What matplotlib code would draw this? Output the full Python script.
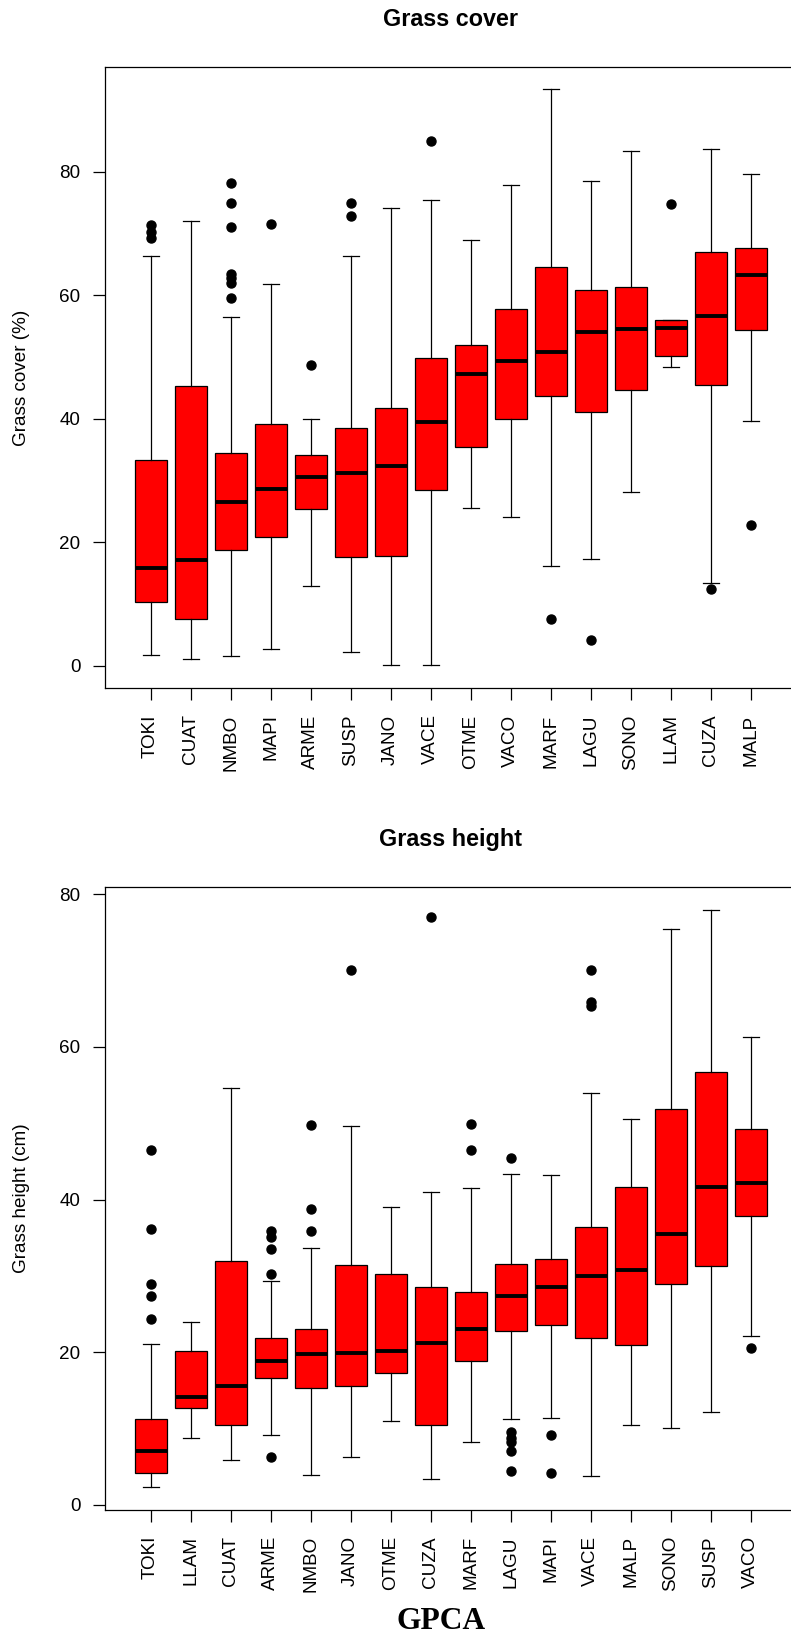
import matplotlib
matplotlib.use("Agg")
import matplotlib.pyplot as plt

plt.rcParams['font.family'] = ['Liberation Sans', 'DejaVu Sans']

# Grass cover (%) per site: box stats
cover_sites = ['TOKI', 'CUAT', 'NMBO', 'MAPI', 'ARME', 'SUSP', 'JANO', 'VACE',
               'OTME', 'VACO', 'MARF', 'LAGU', 'SONO', 'LLAM', 'CUZA', 'MALP']
cover_q1 = [10.3, 7.6, 18.7, 20.8, 25.4, 17.6, 17.8, 28.5,
            35.4, 39.9, 43.7, 41.1, 44.6, 50.2, 45.5, 54.3]
cover_med = [15.9, 17.1, 26.6, 28.7, 30.5, 31.3, 32.4, 39.5,
             47.3, 49.4, 50.8, 54.0, 54.6, 54.7, 56.7, 63.3]
cover_q3 = [33.4, 45.3, 34.4, 39.2, 34.2, 38.5, 41.8, 49.8,
            52.0, 57.8, 64.5, 60.9, 61.4, 56.0, 67.0, 67.7]
cover_lo = [1.8, 1.1, 1.6, 2.7, 12.9, 2.3, 0.1, 0.2,
            25.5, 24.1, 16.2, 17.3, 28.2, 48.4, 13.4, 39.6]
cover_hi = [66.4, 72.0, 56.5, 61.8, 39.9, 66.4, 74.1, 75.4,
            68.9, 77.9, 93.3, 78.5, 83.3, 56.0, 83.7, 79.6]
cover_out = [[71.3, 70.3, 69.2], [], [78.1, 74.9, 71.0, 63.5, 62.8, 62.0, 59.5],
             [71.5], [48.7], [74.9, 72.8], [], [85.0],
             [], [], [7.6], [4.2], [], [74.7], [12.5], [22.8]]

# Grass height (cm) per site
height_sites = ['TOKI', 'LLAM', 'CUAT', 'ARME', 'NMBO', 'JANO', 'OTME', 'CUZA',
                'MARF', 'LAGU', 'MAPI', 'VACE', 'MALP', 'SONO', 'SUSP', 'VACO']
height_q1 = [4.2, 12.7, 10.5, 16.6, 15.3, 15.5, 17.2, 10.4,
             18.8, 22.8, 23.5, 21.9, 21.0, 28.9, 31.3, 37.9]
height_med = [7.1, 14.1, 15.6, 18.9, 19.8, 19.9, 20.2, 21.2,
              23.0, 27.4, 28.6, 30.0, 30.8, 35.5, 41.7, 42.2]
height_q3 = [11.2, 20.2, 32.0, 21.9, 23.0, 31.4, 30.3, 28.5,
             27.9, 31.5, 32.2, 36.4, 41.7, 51.8, 56.7, 49.3]
height_lo = [2.3, 8.8, 5.9, 9.1, 3.9, 6.2, 11.0, 3.4,
             8.2, 11.2, 11.4, 3.8, 10.5, 10.1, 12.2, 22.1]
height_hi = [21.1, 23.9, 54.6, 29.3, 33.7, 49.6, 39.0, 41.0,
             41.5, 43.4, 43.2, 54.0, 50.5, 75.4, 77.9, 61.3]
height_out = [[46.5, 36.2, 28.9, 27.4, 24.4], [], [], [35.9, 35.1, 33.5, 30.3, 6.3],
              [49.8, 38.8, 35.9], [70.1], [], [77.0],
              [49.9, 46.5], [45.4, 9.5, 8.8, 8.2, 7.1, 4.4], [9.1, 4.1], [70.1, 65.9, 65.4],
              [], [], [], [20.6]]

W, H = 791, 1636
fig = plt.figure(figsize=(W / 100, H / 100), dpi=100)


def draw_panel(rect, sites, q1, med, q3, lo, hi, out, ylim, title, ylabel):
    ax = fig.add_axes(rect)
    stats = []
    for i in range(len(sites)):
        stats.append({'q1': q1[i], 'med': med[i], 'q3': q3[i],
                      'whislo': lo[i], 'whishi': hi[i], 'fliers': out[i],
                      'label': sites[i]})
    pos = list(range(1, len(sites) + 1))
    ax.bxp(stats, positions=pos, widths=0.8, capwidths=0.4, patch_artist=True,
           boxprops=dict(facecolor='#FF0000', edgecolor='black', linewidth=0.9),
           medianprops=dict(color='black', linewidth=2.8, solid_capstyle='butt'),
           whiskerprops=dict(color='black', linewidth=0.9),
           capprops=dict(color='black', linewidth=0.9),
           flierprops=dict(marker='o', markerfacecolor='black', markeredgecolor='black',
                           markersize=6.5))
    ax.set_xlim(-0.14, 17.14)
    ax.set_ylim(*ylim)
    ax.set_xticks(pos)
    ax.set_xticklabels(sites, rotation=90)
    ax.set_yticks([0, 20, 40, 60, 80])
    ax.tick_params(axis='both', direction='out', length=8.6, width=0.9,
                   labelsize=13.6, color='black')
    ax.tick_params(axis='x', pad=10.2)
    ax.tick_params(axis='y', pad=9)
    for s in ax.spines.values():
        s.set_linewidth(0.9)
        s.set_color('black')
    ax.set_title(title, fontsize=16.8, fontweight='bold', pad=29.3)
    # y label centred on the panel, as in the original
    b, h = rect[1], rect[3]
    fig.text(21.7 / W, b + h / 2, ylabel, rotation=90, ha='center', va='center',
             fontsize=13.6)
    return ax


left = 105 / W
width = 691.2 / W
draw_panel([left, 1 - 688.3 / H, width, 621.6 / H],
           cover_sites, cover_q1, cover_med, cover_q3, cover_lo, cover_hi, cover_out,
           (-3.61, 96.97), 'Grass cover', 'Grass cover (%)')
draw_panel([left, 1 - 1510 / H, width, 623 / H],
           height_sites, height_q1, height_med, height_q3, height_lo, height_hi, height_out,
           (-0.69, 80.96), 'Grass height', 'Grass height (cm)')

fig.text(440.8 / W, 1 - 1629.3 / H, 'GPCA', ha='center', va='baseline',
         fontsize=22.7, fontweight='bold', family=['Liberation Serif', 'DejaVu Serif'])

fig.savefig('out.png', dpi=100)
